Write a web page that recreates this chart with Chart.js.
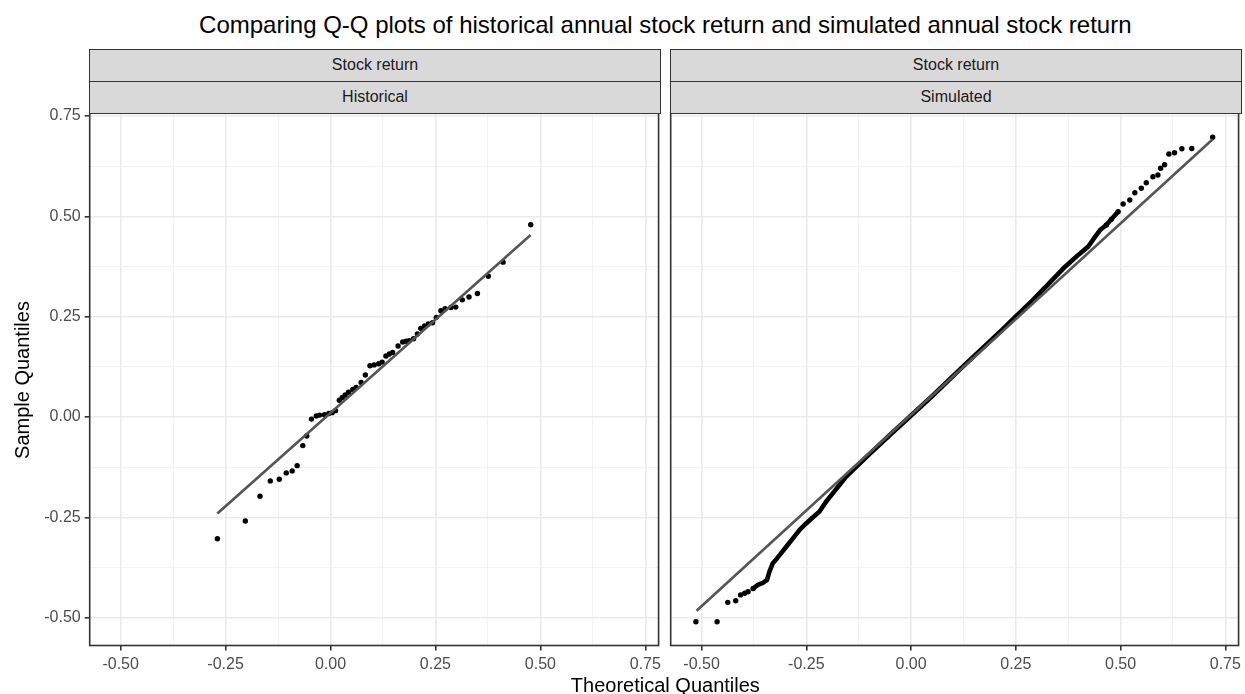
<!DOCTYPE html>
<html>
<head>
<meta charset="utf-8">
<script src="https://cdn.jsdelivr.net/npm/chart.js@4.4.0/dist/chart.umd.min.js"></script>
<style>
  html, body { margin:0; padding:0; background:#fff; width:1245px; height:694px; overflow:hidden;
    font-family:"Liberation Sans", Arial, Helvetica, sans-serif; }
  .abs { position:absolute; }
  #title { left:89.7px; width:1151.3px; top:13px; text-align:center; font-size:24px; line-height:24px; color:#000; white-space:nowrap; }
  .strip { position:absolute; box-sizing:border-box; height:33.5px; background:#D9D9D9; border:1.5px solid #333333;
    text-align:center; font-size:16px; line-height:30px; color:#1A1A1A; z-index:5; }
  #xtitle { left:89.7px; width:1151.3px; top:674.8px; text-align:center; font-size:20px; line-height:20px; color:#000; white-space:nowrap; }
  #ytitle { left:-178px; width:400px; top:370px; text-align:center; font-size:20px; line-height:20px; color:#000;
    transform:rotate(-90deg); transform-origin:50% 50%; white-space:nowrap; }
  canvas { display:block; }
</style>
</head>
<body>
<div id="title" class="abs">Comparing Q-Q plots of historical annual stock return and simulated annual stock return</div>
<div class="strip" style="left:89px;top:48.5px;width:572px;">Stock return</div>
<div class="strip" style="left:89px;top:80.5px;width:572px;">Historical</div>
<div class="strip" style="left:670px;top:48.5px;width:572px;">Stock return</div>
<div class="strip" style="left:670px;top:80.5px;width:572px;">Simulated</div>
<div class="abs" style="left:0;top:93px;width:665px;height:601px;"><canvas id="c1" width="665" height="601"></canvas></div>
<div class="abs" style="left:665px;top:93px;width:580px;height:601px;"><canvas id="c2" width="580" height="601"></canvas></div>
<div id="xtitle" class="abs">Theoretical Quantiles</div>
<div id="ytitle" class="abs">Sample Quantiles</div>
<script>
// ---- Data ----
const panelNames = ["Historical", "Simulated"];

// Historical: theoretical quantiles (x) and sample quantiles (y)
const histTheo = [-0.2695, -0.203, -0.168, -0.1435, -0.122, -0.1055, -0.0913, -0.0794, -0.066, -0.0566,
  -0.0454, -0.034, -0.026, -0.0145, -0.004, 0.004, 0.012, 0.021, 0.028, 0.035,
  0.043, 0.053, 0.061, 0.073, 0.083, 0.094, 0.104, 0.115, 0.123, 0.132,
  0.140, 0.148, 0.161, 0.172, 0.180, 0.1875, 0.198, 0.207, 0.215, 0.224,
  0.233, 0.243, 0.252, 0.263, 0.273, 0.287, 0.2985, 0.314, 0.330, 0.350,
  0.376, 0.411, 0.477];
const histSample = [-0.303, -0.259, -0.197, -0.159, -0.155, -0.139, -0.134, -0.121, -0.071, -0.047,
  -0.005, 0.003, 0.005, 0.006, 0.009, 0.011, 0.016, 0.042, 0.049, 0.055,
  0.062, 0.069, 0.074, 0.086, 0.105, 0.128, 0.130, 0.133, 0.137, 0.152,
  0.157, 0.161, 0.177, 0.187, 0.189, 0.190, 0.195, 0.207, 0.221, 0.227,
  0.232, 0.235, 0.2485, 0.265, 0.270, 0.273, 0.274, 0.292, 0.299, 0.308,
  0.351, 0.386, 0.479];
const histLineTheo = [-0.2695, 0.4767];
const histLineSample = [-0.240, 0.4534];

// Simulated: dense central run of points (traced as a thick chain)
const simCurveTheo = [-0.377, -0.3655, -0.354, -0.344, -0.338, -0.330, -0.320, -0.310, -0.298, -0.282,
  -0.266, -0.2505, -0.235, -0.219, -0.203, -0.187, -0.170, -0.155, -0.10, -0.05,
  0.0, 0.05, 0.126, 0.17, 0.217, 0.25, 0.288, 0.328, 0.367, 0.399,
  0.423, 0.439, 0.451, 0.466, 0.478, 0.494];
const simCurveSample = [-0.427, -0.418, -0.413, -0.406, -0.385, -0.364, -0.352, -0.339, -0.323, -0.302,
  -0.281, -0.265, -0.250, -0.236, -0.211, -0.190, -0.168, -0.148, -0.093, -0.044,
  0.004, 0.052, 0.128, 0.171, 0.217, 0.251, 0.289, 0.332, 0.374, 0.404,
  0.425, 0.449, 0.466, 0.4785, 0.4926, 0.5116];
// Simulated: separate tail points
const simTailTheo = [-0.5135, -0.463, -0.4375, -0.4185, -0.407, -0.397, -0.389, -0.377,
  0.466, 0.478, 0.494, 0.506, 0.522, 0.534, 0.5494, 0.5613, 0.5772, 0.5891, 0.5955, 0.605,
  0.6153, 0.6288, 0.6462, 0.6699, 0.7198];
const simTailSample = [-0.51, -0.51, -0.4615, -0.4575, -0.443, -0.439, -0.435, -0.427,
  0.4785, 0.4926, 0.5116, 0.5308, 0.5407, 0.559, 0.570, 0.5838, 0.5988, 0.603, 0.6197, 0.6287,
  0.6553, 0.6586, 0.6685, 0.669, 0.697];
const simLineTheo = [-0.512, 0.7198];
const simLineSample = [-0.4825, 0.692];

// Axis ticks
const xTickValues = [-0.5, -0.25, 0, 0.25, 0.5, 0.75];
const xTickLabels = ["-0.50", "-0.25", "0.00", "0.25", "0.50", "0.75"];
const xMinorValues = [-0.375, -0.125, 0.125, 0.375, 0.625];
const yTickValues = [-0.5, -0.25, 0, 0.25, 0.5, 0.75];
const yTickLabels = ["-0.50", "-0.25", "0.00", "0.25", "0.50", "0.75"];
const yMinorValues = [-0.375, -0.125, 0.125, 0.375, 0.625];
const xLimits = [-0.5737, 0.7816];
const yLimits = [-0.569, 0.7575];

// ---- helpers ----
const zip = (xs, ys) => xs.map((x, i) => ({x: x, y: ys[i]}));
const isMajor = (vals, v) => vals.some(m => Math.abs(m - v) < 1e-9);
const FONT = "'Liberation Sans', Arial, Helvetica, sans-serif";

const panelBorder = {
  id: 'panelBorder',
  afterDraw(chart) {
    const {ctx, chartArea: a} = chart;
    ctx.save();
    ctx.strokeStyle = '#333333';
    ctx.lineWidth = 1.6;
    ctx.strokeRect(a.left, a.top, a.right - a.left, a.bottom - a.top);
    ctx.restore();
  }
};

function makeScale(majors, minors, labels, limits, showLabels, fitFn) {
  const all = majors.concat(minors).sort((a, b) => a - b);
  return {
    type: 'linear',
    min: limits[0], max: limits[1],
    afterBuildTicks: s => { s.ticks = all.map(v => ({value: v})); },
    afterFit: fitFn,
    border: {display: false},
    grid: {
      color: c => (c.tick && isMajor(majors, c.tick.value)) ? '#EBEBEB' : '#F2F2F2',
      lineWidth: c => (c.tick && isMajor(majors, c.tick.value)) ? 1.6 : 0.9,
      drawTicks: showLabels,
      tickLength: 5,
      tickWidth: 1.6,
      tickColor: c => (c.tick && isMajor(majors, c.tick.value)) ? '#333333' : 'rgba(0,0,0,0)'
    },
    ticks: {
      display: showLabels,
      autoSkip: false,
      maxRotation: 0,
      minRotation: 0,
      padding: 4,
      color: '#4D4D4D',
      font: {family: FONT, size: 16},
      callback: (v) => {
        const i = majors.findIndex(m => Math.abs(m - v) < 1e-9);
        return i >= 0 ? labels[i] : '';
      }
    }
  };
}

function buildChart(id, datasets, showY, yWidth, padRight) {
  return new Chart(document.getElementById(id), {
    type: 'scatter',
    data: {datasets: datasets},
    options: {
      responsive: false,
      animation: false,
      layout: {padding: {top: 20, right: padRight, left: 0, bottom: 0}},
      plugins: {legend: {display: false}, tooltip: {enabled: false}, title: {display: false}},
      scales: {
        x: makeScale(xTickValues, xMinorValues, xTickLabels, xLimits, true, s => { s.height = 48.5; }),
        y: makeScale(yTickValues, yMinorValues, yTickLabels, yLimits, showY, s => { s.width = yWidth; })
      }
    },
    plugins: [panelBorder]
  });
}

const lineStyle = {showLine: true, borderColor: '#555555', borderWidth: 2.6, pointRadius: 0, fill: false, order: 0};
const dotStyle = {showLine: false, backgroundColor: '#000', borderWidth: 0, pointRadius: 2.7, order: 2};

buildChart('c1', [
  Object.assign({label: panelNames[0] + ' line', data: zip(histLineTheo, histLineSample)}, lineStyle),
  Object.assign({label: panelNames[0], data: zip(histTheo, histSample)}, dotStyle)
], true, 89.7, 5);

buildChart('c2', [
  Object.assign({label: panelNames[1] + ' line', data: zip(simLineTheo, simLineSample)}, lineStyle),
  {label: panelNames[1] + ' dense', data: zip(simCurveTheo, simCurveSample), showLine: true,
   borderColor: '#000', borderWidth: 4.6, pointRadius: 0, fill: false, tension: 0, order: 1,
   borderCapStyle: 'round', borderJoinStyle: 'round'},
  Object.assign({label: panelNames[1] + ' tails', data: zip(simTailTheo, simTailSample)}, dotStyle)
], false, 5.7, 4);
</script>
</body>
</html>
